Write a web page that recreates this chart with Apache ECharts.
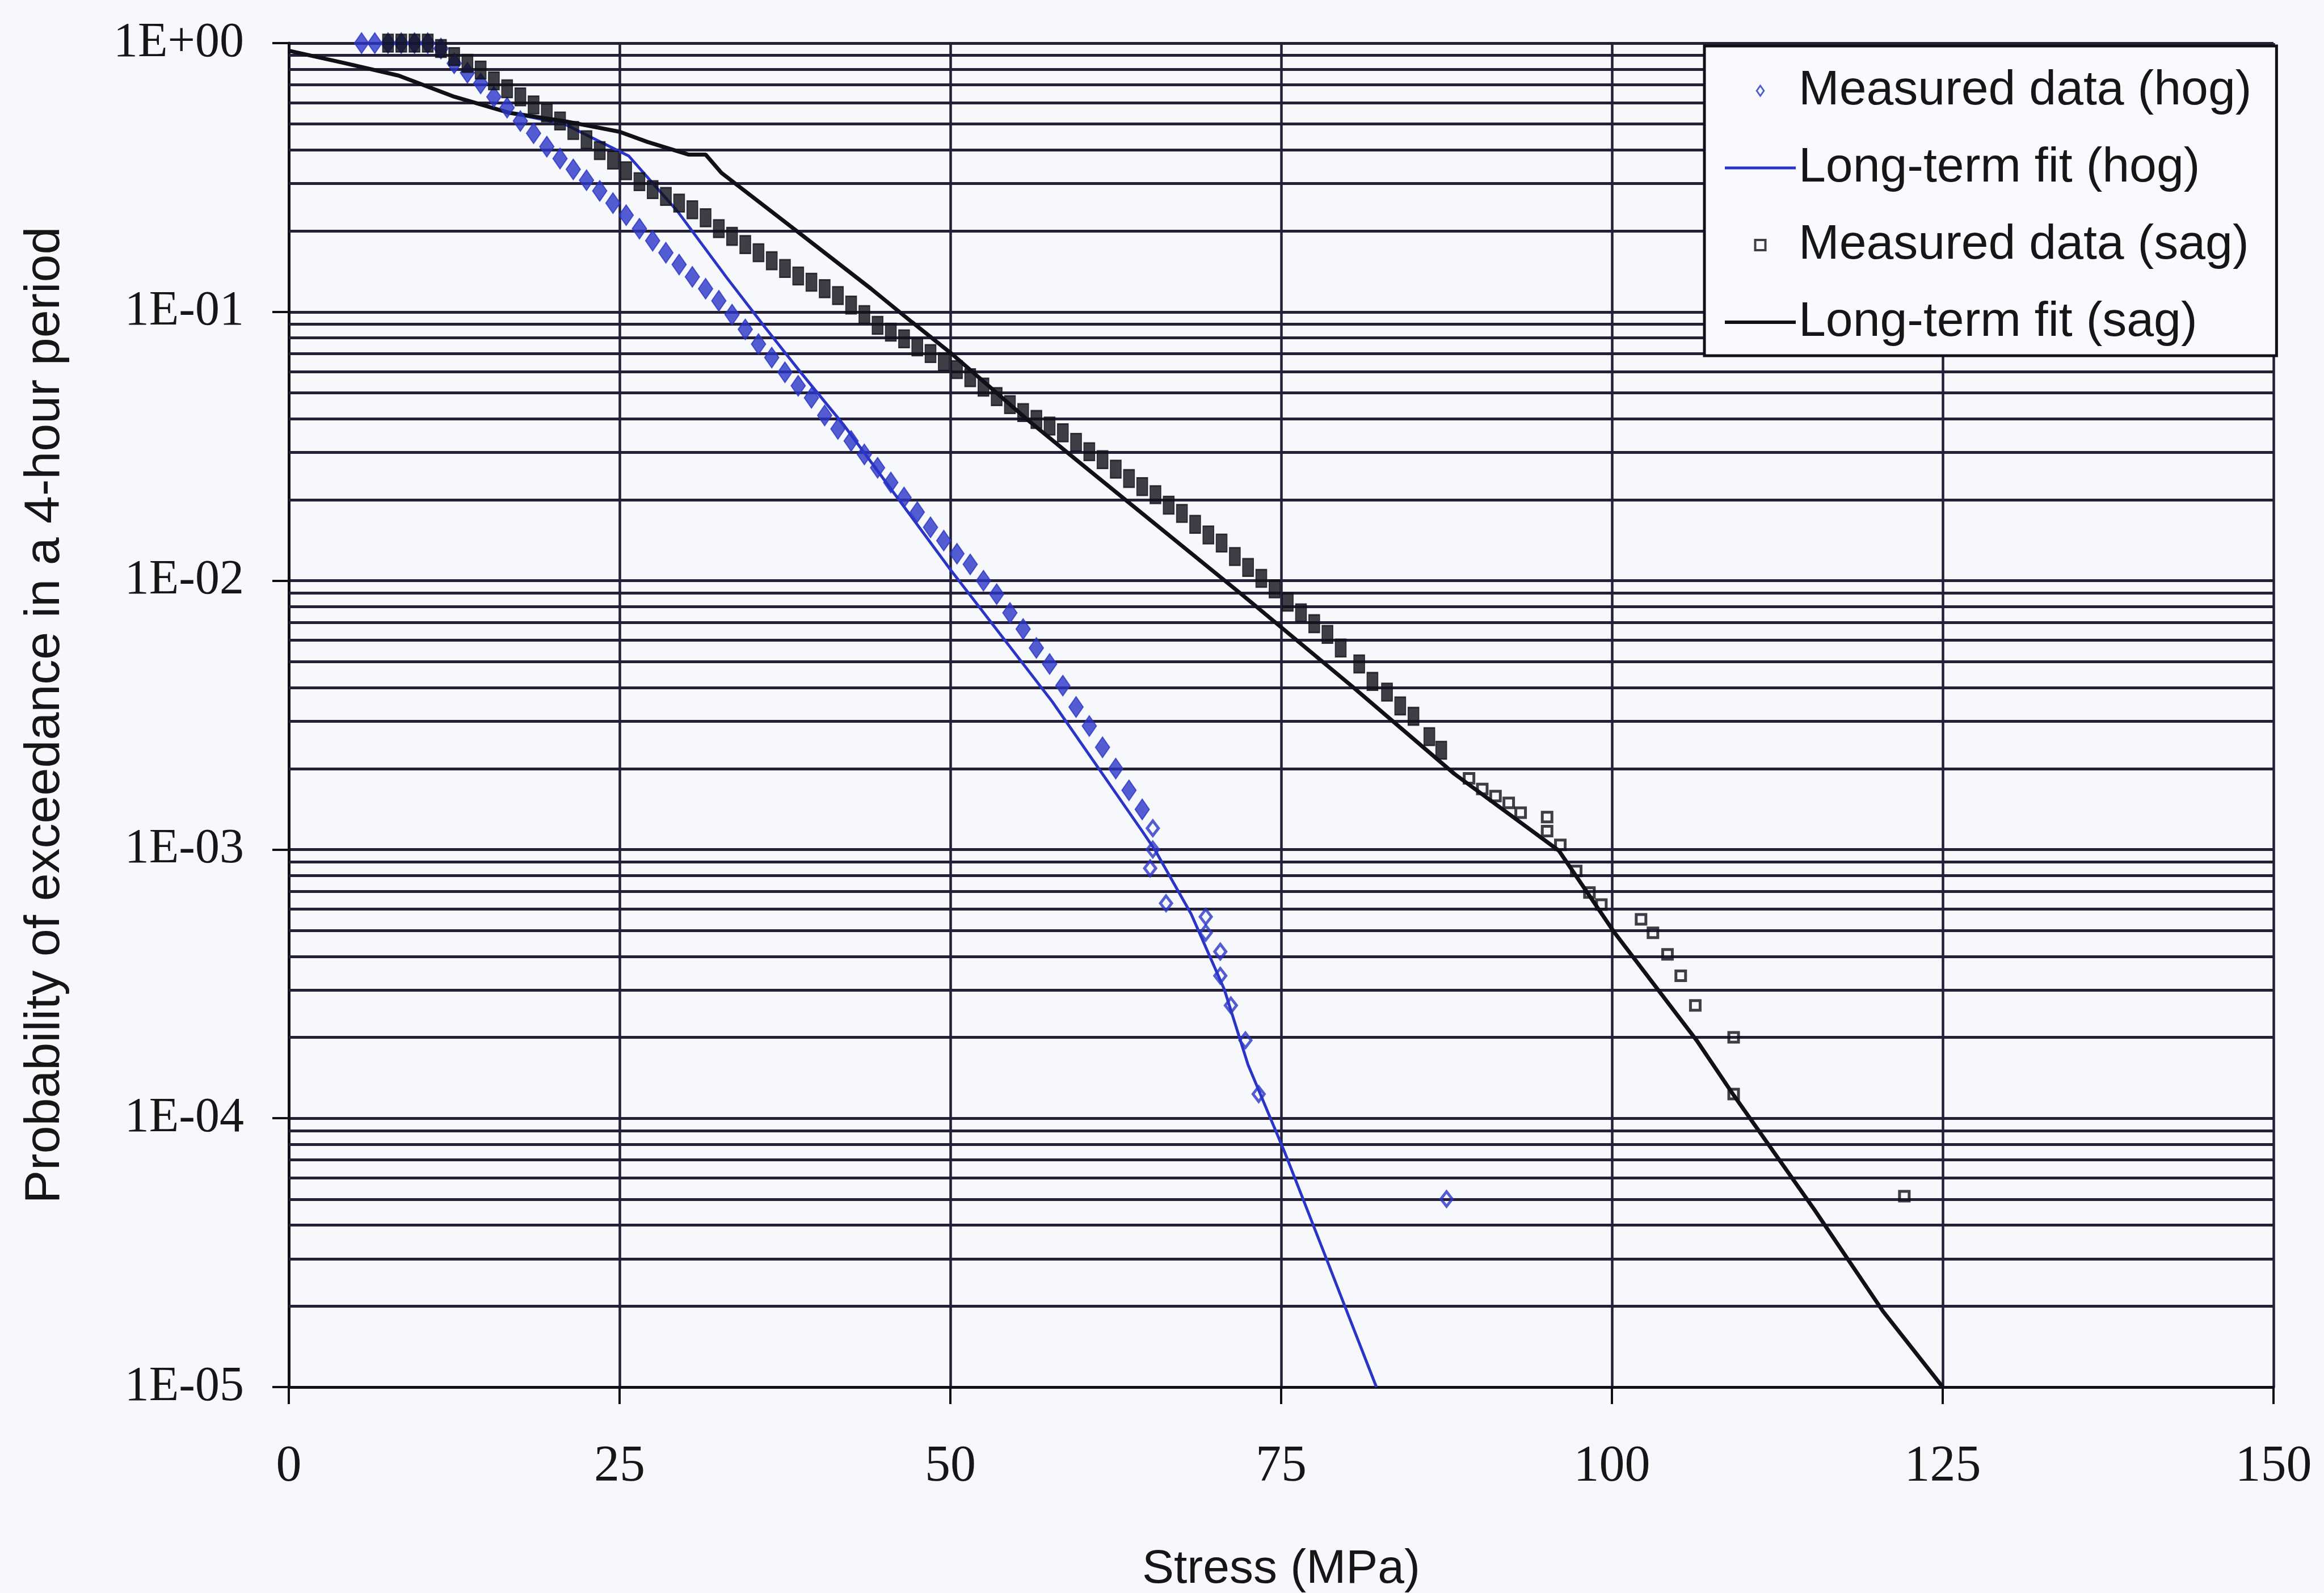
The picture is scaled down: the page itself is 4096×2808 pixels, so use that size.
<!DOCTYPE html>
<html>
<head>
<meta charset="utf-8">
<script src="https://cdn.jsdelivr.net/npm/echarts@6/dist/echarts.min.js"></script>
<style>
html,body{margin:0;padding:0;background:#f6f8fc;}
#chart{width:4096px;height:2808px;}
</style>
</head>
<body>
<div id="chart"></div>
<script>
// ---- tick definitions ----
const xTicks = [0, 25, 50, 75, 100, 125, 150];
const yTickLabels = ['1E-05', '1E-04', '1E-03', '1E-02', '1E-01', '1E+00'];
const yMinorGrid = [
  2e-5, 3e-5, 4e-5, 5e-5, 6e-5, 7e-5, 8e-5, 9e-5,
  2e-4, 3e-4, 4e-4, 5e-4, 6e-4, 7e-4, 8e-4, 9e-4,
  2e-3, 3e-3, 4e-3, 5e-3, 6e-3, 7e-3, 8e-3, 9e-3,
  2e-2, 3e-2, 4e-2, 5e-2, 6e-2, 7e-2, 8e-2, 9e-2,
  0.2, 0.3, 0.4, 0.5, 0.6, 0.7, 0.8, 0.9
];

// ---- series data [stress MPa, probability] ----
const hogMeasured = [
  [5.5,1],[6.5,1],[7.5,1],[8.5,1],[9.5,1],[10.5,1],[11.5,0.955],[12.5,0.841],[13.5,0.776],[14.5,0.708],
  [15.5,0.631],[16.5,0.575],[17.5,0.513],[18.5,0.462],[19.5,0.412],[20.5,0.372],[21.5,0.339],[22.5,0.309],
  [23.5,0.282],[24.5,0.254],[25.5,0.229],[26.5,0.204],[27.5,0.184],[28.5,0.166],[29.5,0.150],[30.5,0.135],
  [31.5,0.122],[32.5,0.110],[33.5,0.0977],[34.5,0.0861],[35.5,0.0759],[36.5,0.0676],[37.5,0.0596],[38.5,0.0531],
  [39.5,0.0479],[40.5,0.0412],[41.5,0.0367],[42.5,0.0331],[43.5,0.0295],[44.5,0.0263],[45.5,0.0232],[46.5,0.0204],
  [47.5,0.0180],[48.5,0.0158],[49.5,0.0141],[50.5,0.0126],[51.5,0.0115],[52.5,0.0100],[53.5,0.00891],[54.5,0.00759],
  [55.5,0.00661],[56.5,0.00562],[57.5,0.00490],[58.5,0.00407],[59.5,0.00339],[60.5,0.00288],[61.5,0.00240],[62.5,0.00200],
  [63.5,0.00166],[64.5,0.00141],[65.3,0.00120],[65.3,0.00100],[65.1,0.000851],[66.3,0.000631],[69.3,0.000562],[69.3,0.000490],
  [70.4,0.000417],[70.4,0.000339],[71.2,0.000263],[72.3,0.000195],[73.3,0.000123],[87.5,0.0000501]
];
const hogFit = [
  [0,0.937],[4.2,0.843],[8.3,0.757],[12.5,0.632],[16.7,0.550],[20.8,0.501],[25.7,0.380],[29.4,0.236],
  [33.1,0.134],[36,0.0875],[38.6,0.0603],[41.9,0.0382],[50,0.0110],[57.7,0.00355],[64.5,0.00117],[65.5,0.000989],
  [68.2,0.000575],[70.7,0.000302],[72.5,0.000158],[75.3,0.0000741],[78.4,0.0000302],[79.9,0.0000195],[82.2,0.00001]
];
const sagMeasured = [
  [7.5,1],[8.5,1],[9.5,1],[10.5,1],[11.5,0.955],[12.5,0.891],[13.5,0.841],[14.5,0.794],[15.5,0.724],[16.5,0.676],
  [17.5,0.631],[18.5,0.589],[19.5,0.550],[20.5,0.513],[21.5,0.473],[22.5,0.437],[23.5,0.398],[24.5,0.367],
  [25.5,0.335],[26.5,0.305],[27.5,0.285],[28.5,0.269],[29.5,0.254],[30.5,0.240],[31.5,0.224],[32.5,0.204],
  [33.5,0.191],[34.5,0.178],[35.5,0.166],[36.5,0.155],[37.5,0.145],[38.5,0.136],[39.5,0.129],[40.5,0.122],
  [41.5,0.115],[42.5,0.106],[43.5,0.0977],[44.5,0.0891],[45.5,0.0841],[46.5,0.0794],[47.5,0.0741],[48.5,0.0700],
  [49.5,0.0653],[50.5,0.0610],[51.5,0.0569],[52.5,0.0525],[53.5,0.0484],[54.5,0.0452],[55.5,0.0422],[56.5,0.0398],
  [57.5,0.0376],[58.5,0.0355],[59.5,0.0327],[60.5,0.0302],[61.5,0.0282],[62.5,0.0260],[63.5,0.0240],[64.5,0.0224],
  [65.5,0.0209],[66.5,0.0191],[67.5,0.0178],[68.5,0.0162],[69.5,0.0148],[70.5,0.0138],[71.5,0.0123],[72.5,0.0112],
  [73.5,0.0102],[74.5,0.00933],[75.5,0.00832],[76.5,0.00759],[77.5,0.00692],[78.5,0.00631],[79.5,0.00562],[80.9,0.00490],
  [81.9,0.00422],[83.0,0.00385],[84.0,0.00342],[85.0,0.00313],[86.2,0.00263],[87.1,0.00234],[89.2,0.00184],[90.2,0.00168],
  [91.2,0.00158],[92.2,0.00149],[93.1,0.00137],[95.1,0.00132],[95.1,0.00117],[96.1,0.00104],[97.3,0.000832],[98.3,0.000692],
  [99.2,0.000624],[102.2,0.000550],[103.1,0.000490],[104.2,0.000407],[105.2,0.000339],[106.3,0.000263],[109.2,0.000200],
  [109.2,0.000123],[122.1,0.0000513]
];
const sagFit = [
  [0,0.937],[4.2,0.843],[8.3,0.757],[12.5,0.632],[16.7,0.550],[20.8,0.513],[25,0.468],[27.1,0.429],
  [30.2,0.385],[31.5,0.385],[32.7,0.329],[38.1,0.205],[44,0.122],[47.1,0.0916],[50.2,0.0692],[55.8,0.0398],
  [59.5,0.0282],[72,0.00891],[80.3,0.00407],[88.1,0.00191],[96,0.000989],[100.2,0.000490],[106.4,0.000195],
  [109,0.000126],[115.3,0.0000457],[120.5,0.0000191],[125,0.00001]
];

const seriesNames = ['Measured data (hog)', 'Long-term fit (hog)', 'Measured data (sag)', 'Long-term fit (sag)'];

// ---- styling ----
const gridColor = '#251f38';
const blue = '#2a34c6';
const black = '#101018';
const textColor = '#161616';
const diamondIcon = 'path://M0,-10 L7,0 L0,10 L-7,0 Z';
const squareIcon = 'path://M0,0 L10,0 L10,10 L0,10 Z';
// Markers are drawn solid where the measured points crowd together, hollow in the sparse tail
const hogSolidAbove = 1.3e-3;
const sagSolidAbove = 2.0e-3;

function styledPoints(points, solidAbove, color, denseSize, sparseSize) {
  return points.map(p => p[1] >= solidAbove
    ? {value: p, symbolSize: denseSize, itemStyle: {color: color, borderColor: color, borderWidth: 2}}
    : {value: p, symbolSize: sparseSize, itemStyle: {color: 'rgba(0,0,0,0)', borderColor: color, borderWidth: 5}});
}

const chart = echarts.init(document.getElementById('chart'), null, {renderer: 'canvas'});
chart.setOption({
  animation: false,
  backgroundColor: '#f6f8fc',
  grid: {left: 509, top: 76, right: 89, bottom: 363, containLabel: false, outerBoundsMode: 'none'},
  xAxis: {
    type: 'value', min: xTicks[0], max: xTicks[xTicks.length - 1], interval: 25,
    axisLine: {show: true, lineStyle: {color: black, width: 5}},
    axisTick: {show: true, length: 30, lineStyle: {color: black, width: 4}},
    axisLabel: {fontFamily: 'Liberation Serif', fontSize: 90, color: textColor, margin: 96,
      formatter: v => String(xTicks[xTicks.indexOf(v)])},
    splitLine: {show: true, lineStyle: {color: gridColor, width: 4.5}},
    name: 'Stress (MPa)', nameLocation: 'middle', nameGap: 280, nameMoveOverlap: false,
    nameTextStyle: {fontFamily: 'Liberation Sans', fontSize: 84, color: textColor}
  },
  yAxis: {
    type: 'log', logBase: 10, min: 1e-5, max: 1, splitNumber: 5,
    axisLine: {show: true, lineStyle: {color: black, width: 5}},
    axisTick: {show: true, length: 29, lineStyle: {color: black, width: 4}},
    axisLabel: {fontFamily: 'Liberation Serif', fontSize: 86, color: textColor, margin: 79,
      formatter: v => yTickLabels[Math.round(Math.log10(v)) + 5]},
    splitLine: {show: true, lineStyle: {color: gridColor, width: 5}},
    minorTick: {show: false}, minorSplitLine: {show: false},
    name: 'Probability of exceedance in a 4-hour period', nameLocation: 'middle', nameRotate: 90,
    nameGap: 385, nameMoveOverlap: false,
    nameTextStyle: {fontFamily: 'Liberation Sans', fontSize: 88, color: textColor}
  },
  legend: {
    orient: 'vertical', left: 3004, top: 81,
    padding: [36, 44, 16, 33], itemGap: 50, itemWidth: 125, itemHeight: 18,
    symbolKeepAspect: true,
    backgroundColor: '#f8fafd', borderColor: black, borderWidth: 5,
    selectedMode: false,
    textStyle: {fontFamily: 'Liberation Sans', fontSize: 86, color: textColor, lineHeight: 86},
    data: [
      {name: seriesNames[0], icon: diamondIcon, itemStyle: {color: 'rgba(0,0,0,0)', borderColor: blue, borderWidth: 3}},
      {name: seriesNames[1], itemStyle: {opacity: 0}, lineStyle: {color: blue, width: 5}},
      {name: seriesNames[2], icon: squareIcon, itemStyle: {color: 'rgba(0,0,0,0)', borderColor: black, borderWidth: 4}},
      {name: seriesNames[3], itemStyle: {opacity: 0}, lineStyle: {color: black, width: 6}}
    ]
  },
  series: [
    {
      name: 'minor gridlines', type: 'lines', coordinateSystem: 'cartesian2d', silent: true, z: 1,
      polyline: false, effect: {show: false},
      lineStyle: {color: gridColor, width: 5, opacity: 1, curveness: 0},
      data: yMinorGrid.map(v => ({coords: [[xTicks[0], v], [xTicks[xTicks.length - 1], v]]}))
    },
    {
      name: seriesNames[1], type: 'line', data: hogFit, symbol: 'none', z: 3,
      lineStyle: {color: blue, width: 5}, itemStyle: {color: blue}
    },
    {
      name: seriesNames[3], type: 'line', data: sagFit, symbol: 'none', z: 3,
      lineStyle: {color: black, width: 7}, itemStyle: {color: black}
    },
    {
      name: seriesNames[0], type: 'scatter', symbol: 'diamond', z: 4,
      data: styledPoints(hogMeasured, hogSolidAbove, blue, [25, 36], [20, 26]),
      itemStyle: {color: 'rgba(0,0,0,0)', borderColor: blue, borderWidth: 5}
    },
    {
      name: seriesNames[2], type: 'scatter', symbol: 'rect', z: 4,
      data: styledPoints(sagMeasured, sagSolidAbove, black, [19, 31], [17, 17]),
      itemStyle: {color: 'rgba(0,0,0,0)', borderColor: black, borderWidth: 5}
    }
  ]
});
</script>
</body>
</html>
